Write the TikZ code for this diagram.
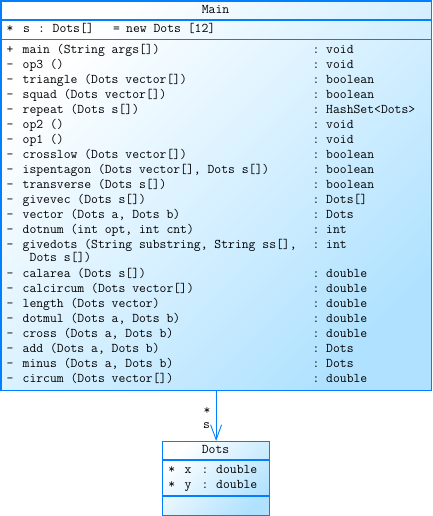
\documentclass[tikz,border=0pt]{standalone}
\usetikzlibrary{arrows.meta}
\definecolor{umlblue}{RGB}{0,128,255}
\definecolor{umlfill}{RGB}{176,226,255}

\begin{document}
\begin{tikzpicture}[x=1pt,y=-1pt,>={Straight Barb[length=15pt,width=11pt]},classbox/.style={draw=umlblue, line width=1.2pt, rectangle, inner sep=0pt, anchor=north west, top color=white, bottom color=umlfill, shading angle=45},divider/.style={draw=umlblue, line width=1.1pt},txt/.style={inner sep=0pt, anchor=base west, font=\fontsize{13.3}{15}\selectfont\ttfamily},assoc/.style={->, draw=umlblue, line width=0.9pt}]
\useasboundingbox (0,0) rectangle (432,516);
% class boxes
\node[classbox, minimum width=430pt, minimum height=389.5pt] (main) at (0.5,0.5) {};
\node[classbox, minimum width=107pt, minimum height=74pt] (dots) at (162,441) {};
\draw[divider] (0.5,20) -- (430.5,20); \draw[divider] (0.5,39.5) -- (430.5,39.5);
\draw[divider] (162,460) -- (269,460); \draw[divider] (162,496) -- (269,496);
% Main
\node[txt, anchor=base] (mainname) at (215.5,14) {Main};
\node[txt] (smk) at (6.5,33) {*}; \node[txt] (snm) at (23,33) {s}; \node[txt] (scl) at (38,33) {:};
\node[txt] (sty) at (52.5,33) {Dots[]}; \node[txt] (seq) at (113,33) {=}; \node[txt] (sinit) at (126,33) {new Dots [12]};
\foreach \mk/\nm/\ty [count=\i from 0] in {+/main (String args[])/void, -/op3 ()/void, -/triangle (Dots vector[])/boolean, -/squad (Dots vector[])/boolean, -/repeat (Dots s[])/HashSet<Dots>, -/op2 ()/void, -/op1 ()/void, -/crosslow (Dots vector[])/boolean, -/{ispentagon (Dots vector[], Dots s[])}/boolean, -/transverse (Dots s[])/boolean, -/givevec (Dots s[])/Dots[], -/{vector (Dots a, Dots b)}/Dots, -/{dotnum (int opt, int cnt)}/int, -/{givedots (String substring, String ss[],}/int}
{\node[txt] (mk\i) at (6.5,53.2+15*\i) {\mk}; \node[txt] (nm\i) at (22.5,53.2+15*\i) {\nm};
 \node[txt] (cl\i) at (312.5,53.2+15*\i) {:}; \node[txt] (ty\i) at (326,53.2+15*\i) {\ty};}
\node[txt] (nm13b) at (29.5,261) {Dots s[])};
\foreach \mk/\nm/\ty [count=\i from 14] in {-/calarea (Dots s[])/double, -/calcircum (Dots vector[])/double, -/length (Dots vector)/double, -/{dotmul (Dots a, Dots b)}/double, -/{cross (Dots a, Dots b)}/double, -/{add (Dots a, Dots b)}/Dots, -/{minus (Dots a, Dots b)}/Dots, -/circum (Dots vector[])/double}
{\node[txt] (mk\i) at (6.5,67.6+15*\i) {\mk}; \node[txt] (nm\i) at (22.5,67.6+15*\i) {\nm};
 \node[txt] (cl\i) at (312.5,67.6+15*\i) {:}; \node[txt] (ty\i) at (326,67.6+15*\i) {\ty};}
% Dots
\node[txt, anchor=base] (dotsname) at (215.5,453.3) {Dots};
\node[txt] (xmk) at (168.2,473.3) {*}; \node[txt] (xnm) at (184.5,473.3) {x}; \node[txt] (xcl) at (201.5,473.3) {:}; \node[txt] (xty) at (216,473.3) {double};
\node[txt] (ymk) at (168.2,488.3) {*}; \node[txt] (ynm) at (184.5,488.3) {y}; \node[txt] (ycl) at (201.5,488.3) {:}; \node[txt] (yty) at (216,488.3) {double};
% association
\draw[assoc] (main.south) -- (dots.north);
\node[txt, anchor=center] (mult) at (207,411) {*};
\node[txt, anchor=center] (role) at (206.5,426) {s};
\end{tikzpicture}
\end{document}
